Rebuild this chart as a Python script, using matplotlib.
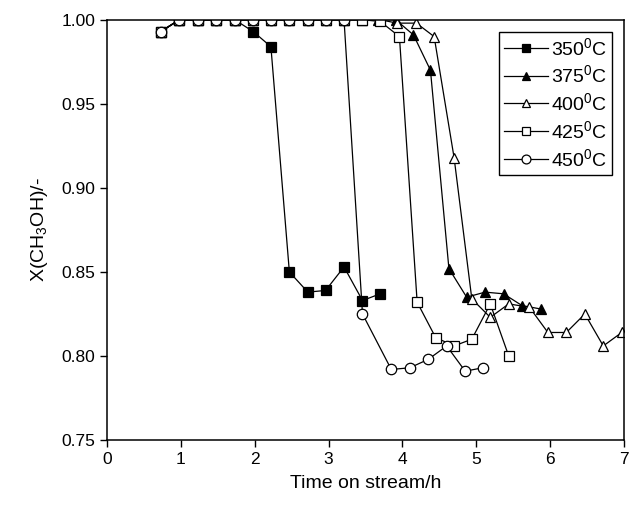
import matplotlib
matplotlib.use("Agg")
import matplotlib.pyplot as plt

# Methanol conversion vs time on stream at five temperatures
t_350 = [0.73, 0.98, 1.23, 1.48, 1.73, 1.98, 2.22, 2.47, 2.72, 2.96, 3.21, 3.46, 3.70]
x_350 = [0.993, 1.0, 1.0, 1.0, 1.0, 0.993, 0.984, 0.850, 0.838, 0.839, 0.853, 0.833, 0.837]

t_375 = [0.73, 0.98, 1.23, 1.48, 1.73, 1.98, 2.22, 2.47, 2.72, 2.96, 3.21, 3.46, 3.67, 3.91,
         4.15, 4.38, 4.63, 4.87, 5.12, 5.37, 5.62, 5.87]
x_375 = [0.993, 1.0, 1.0, 1.0, 1.0, 1.0, 1.0, 1.0, 1.0, 1.0, 1.0, 1.0, 1.0, 1.0,
         0.991, 0.970, 0.852, 0.835, 0.838, 0.837, 0.830, 0.828]

t_400 = [0.73, 0.98, 1.23, 1.48, 1.73, 1.98, 2.22, 2.47, 2.72, 2.96, 3.21, 3.46, 3.70, 3.93,
         4.19, 4.43, 4.70, 4.94, 5.19, 5.44, 5.72, 5.97, 6.22, 6.47, 6.72, 6.97]
x_400 = [0.993, 1.0, 1.0, 1.0, 1.0, 1.0, 1.0, 1.0, 1.0, 1.0, 1.0, 1.0, 1.0, 0.998,
         0.998, 0.990, 0.918, 0.834, 0.823, 0.831, 0.829, 0.814, 0.814, 0.825, 0.806, 0.814]

t_425 = [0.73, 0.98, 1.23, 1.48, 1.73, 1.98, 2.22, 2.47, 2.72, 2.96, 3.21, 3.46, 3.70, 3.96,
         4.20, 4.45, 4.70, 4.94, 5.19, 5.44]
x_425 = [0.993, 1.0, 1.0, 1.0, 1.0, 1.0, 1.0, 1.0, 1.0, 1.0, 1.0, 1.0, 0.999, 0.990,
         0.832, 0.811, 0.806, 0.810, 0.831, 0.800]

t_450 = [0.73, 0.98, 1.23, 1.48, 1.73, 1.98, 2.22, 2.47, 2.72, 2.96, 3.21, 3.46,
         3.85, 4.10, 4.35, 4.60, 4.85, 5.09]
x_450 = [0.993, 1.0, 1.0, 1.0, 1.0, 1.0, 1.0, 1.0, 1.0, 1.0, 1.0, 0.825,
         0.792, 0.793, 0.798, 0.806, 0.791, 0.793]

labels = ["350$^{0}$C", "375$^{0}$C", "400$^{0}$C", "425$^{0}$C", "450$^{0}$C"]

plt.rcParams['font.family'] = ['Liberation Sans', 'DejaVu Sans']
plt.rcParams['mathtext.fontset'] = 'custom'
plt.rcParams['mathtext.rm'] = 'Liberation Sans'
plt.rcParams['mathtext.it'] = 'Liberation Sans:italic'
plt.rcParams['mathtext.default'] = 'regular'

fig = plt.figure(figsize=(6.29, 5.07), dpi=100)
ax = fig.add_axes([0.170, 0.132, 0.822, 0.829])

series = [(t_350, x_350, 's', 'black'),
          (t_375, x_375, '^', 'black'),
          (t_400, x_400, '^', 'white'),
          (t_425, x_425, 's', 'white'),
          (t_450, x_450, 'o', 'white')]

for (t, x, m, fc), lab in zip(series, labels):
    ax.plot(t, x, color='black', lw=0.9, marker=m, markersize=7.5,
            markerfacecolor=fc, markeredgecolor='black', markeredgewidth=0.9,
            label=lab)

ax.set_xlim(0, 7)
ax.set_ylim(0.75, 1.00)
ax.set_xticks(range(0, 8))
ax.set_yticks([0.75, 0.80, 0.85, 0.90, 0.95, 1.00])
ax.set_yticklabels(["0.75", "0.80", "0.85", "0.90", "0.95", "1.00"])
ax.tick_params(direction='out', length=5, width=1, labelsize=12.5, top=False, right=False)
for s in ax.spines.values():
    s.set_linewidth(1.1)
    s.set_zorder(3)

ax.set_xlabel("Time on stream/h", fontsize=14, labelpad=6)
ax.set_ylabel("X(CH$_3$OH)/-", fontsize=14, labelpad=8)

leg = ax.legend(loc='upper right', bbox_to_anchor=(0.985, 0.98), fontsize=14,
                frameon=True, fancybox=False, edgecolor='black', framealpha=1,
                handlelength=2.3, handletextpad=0.15, labelspacing=0.3,
                borderpad=0.25, borderaxespad=0.2, markerscale=0.85)
leg.get_frame().set_linewidth(1.0)

fig.savefig("out.png", dpi=100)
